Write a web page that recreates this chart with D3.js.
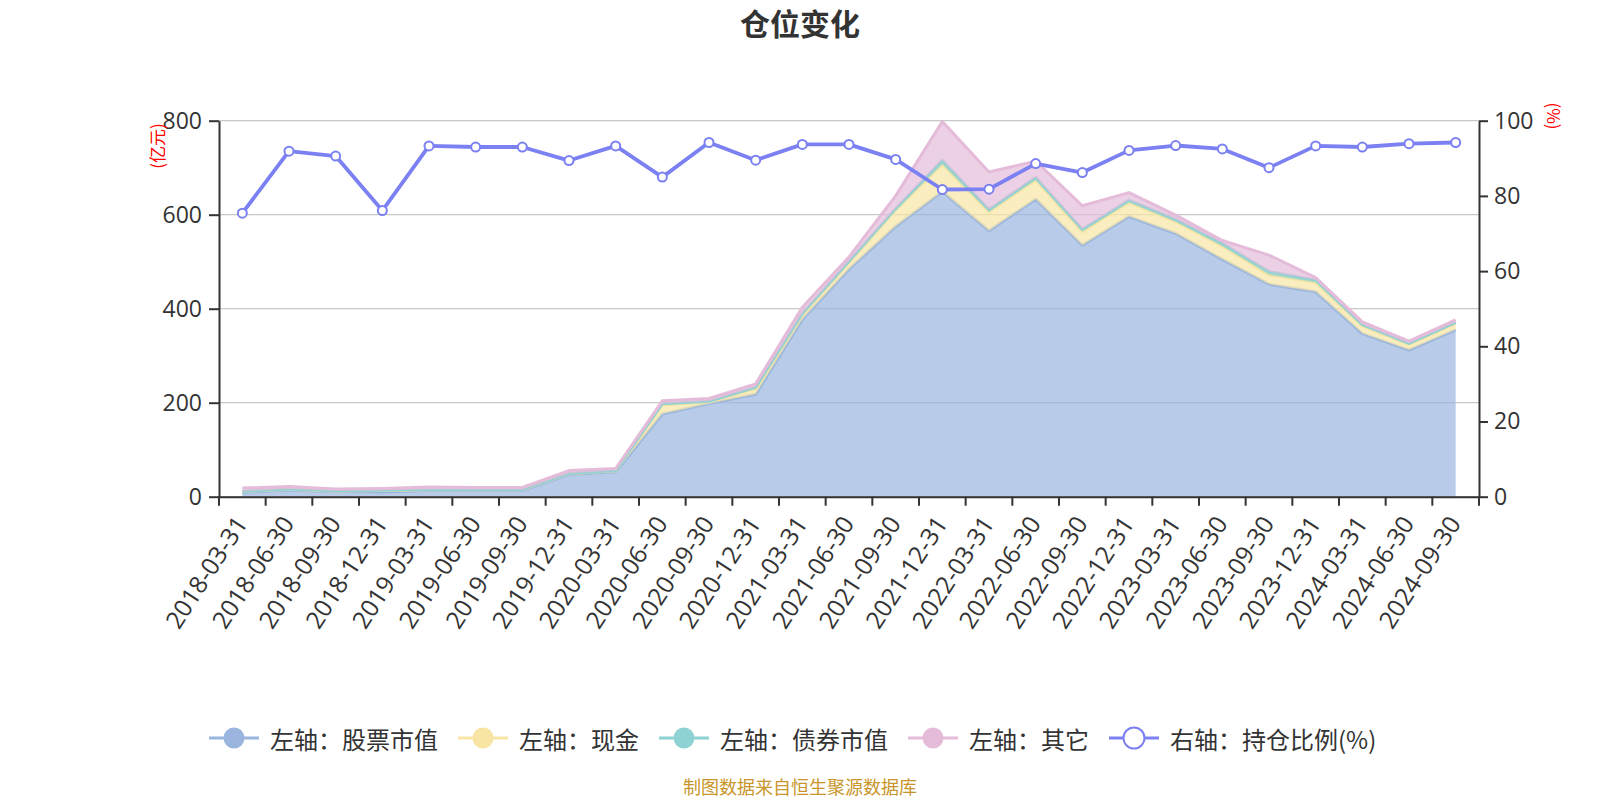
<!DOCTYPE html>
<html><head><meta charset="utf-8">
<script src="https://cdn.jsdelivr.net/npm/d3@7"></script>
<style>body{margin:0;background:#fff} svg{display:block}</style>
</head><body><svg id="c" width="1600" height="800"></svg>
<script>
const categories = ["2018-03-31","2018-06-30","2018-09-30","2018-12-31","2019-03-31","2019-06-30","2019-09-30","2019-12-31","2020-03-31","2020-06-30","2020-09-30","2020-12-31","2021-03-31","2021-06-30","2021-09-30","2021-12-31","2022-03-31","2022-06-30","2022-09-30","2022-12-31","2023-03-31","2023-06-30","2023-09-30","2023-12-31","2024-03-31","2024-06-30","2024-09-30"];
const stockValues = [9,14,11,10,13,13,13,47,53,176,198,218,377,484,575,649,566,633,535,596,560,505,452,436,347,312,355];
const cashValues  = [2,2,1,3,2,2,2,2,2,19,4,12,11,14,35,58,40,41,29,30,25,28,20,20,16,12,13];
const bondValues  = [0.5,0.5,0.5,0.5,0.5,0.5,0.5,0.5,1,3,1,3,2,3,3,9,5,5,5,5,5,6,7,5,3,2,3];
const otherValues = [7,5,4,4,5,4,4,6,4,6,6,7,13,9,27,82,80,35,50,16,9,6,35,5,6,5,5];
const ratioValues = [75.4,91.9,90.6,76.1,93.3,93.0,93.0,89.4,93.3,85.0,94.2,89.5,93.7,93.7,89.7,81.7,81.8,88.6,86.2,92.1,93.4,92.5,87.5,93.3,93.0,93.9,94.2];
const leftTicks = [0,200,400,600,800];
const rightTicks = [0,20,40,60,80,100];
const seriesNames = ["左轴：股票市值","左轴：现金","左轴：债券市值","左轴：其它","右轴：持仓比例(%)"];
const seriesColors = ["#9ab6df","#f8e5a4","#8fd2d3","#e4bcda","#7b80f2"];
const titleText = "仓位变化";
const leftUnit = "(亿元)";
const rightUnit = "(%)";
const footerText = "制图数据来自恒生聚源数据库";

const FONT = "'Open Sans','Noto Sans CJK SC',sans-serif";
const CJK = "'Noto Sans CJK SC','Open Sans',sans-serif";
const svg = d3.select("#c");
const L = 219, R = 1479, T = 120.7, B = 496.7;

const x = d3.scaleBand().domain(categories).range([L, R]);
const cx = c => x(c) + x.bandwidth() / 2;
const yL = d3.scaleLinear().domain([0, 800]).range([B, T]);
const yR = d3.scaleLinear().domain([0, 100]).range([B, T]);

const table = categories.map((c, i) => ({date: c, stock: stockValues[i], cash: cashValues[i], bond: bondValues[i], other: otherValues[i], ratio: ratioValues[i]}));
const keys = ["stock","cash","bond","other"];
const stacked = d3.stack().keys(keys)(table);

// title
svg.append("text").attr("x", 800).attr("y", 22).attr("text-anchor","middle").attr("dominant-baseline","central")
  .attr("font-family", CJK).attr("font-weight","bold").attr("font-size", 30).attr("fill","#333").text(titleText);

// grid
svg.append("g").selectAll("line").data(leftTicks).join("line")
  .attr("x1", L).attr("x2", R).attr("y1", d => yL(d)).attr("y2", d => yL(d))
  .attr("stroke", "#c8c8c8").attr("stroke-width", 1.3);

// areas
const area = d3.area().x(d => cx(d.data.date)).y0(d => yL(d[0])).y1(d => yL(d[1]));
const topLine = d3.line().x(d => cx(d.data.date)).y(d => yL(d[1]));
stacked.forEach((layer, k) => {
  svg.append("path").datum(layer).attr("d", area).attr("fill", seriesColors[k]).attr("fill-opacity", 0.7);
  svg.append("path").datum(layer).attr("d", topLine).attr("fill","none").attr("stroke", seriesColors[k])
    .attr("stroke-width", 3).attr("stroke-linejoin","round");
});

// left axis
const gl = svg.append("g").attr("transform", `translate(${L},0)`)
  .call(d3.axisLeft(yL).tickValues(leftTicks).tickSize(10).tickSizeOuter(0).tickPadding(7));
// right axis
const gr = svg.append("g").attr("transform", `translate(${R},0)`)
  .call(d3.axisRight(yR).tickValues(rightTicks).tickSize(9).tickSizeOuter(0).tickPadding(6));
[gl, gr].forEach(g => {
  g.select(".domain").attr("stroke","#333").attr("stroke-width",2);
  g.selectAll(".tick line").attr("stroke","#333").attr("stroke-width",2);
  g.selectAll(".tick text").attr("fill","#333").attr("font-size",23).attr("font-family",FONT);
});

// bottom axis (labels at band centers, ticks at band boundaries)
const gb = svg.append("g").attr("transform", `translate(0,${B})`)
  .call(d3.axisBottom(x).tickSize(0).tickSizeOuter(0));
gb.select(".domain").attr("stroke","#333").attr("stroke-width",2);
gb.selectAll(".tick text").attr("fill","#333").attr("font-size",24.5).attr("font-family",FONT)
  .attr("x",0).attr("y",0).attr("dy","0.35em").attr("text-anchor","end")
  .attr("transform","translate(-1,22) rotate(-57)");
const bounds = categories.map(c => x(c)).concat([R]);
gb.append("g").selectAll("line").data(bounds).join("line")
  .attr("x1", d => d).attr("x2", d => d).attr("y1", 0).attr("y2", 9)
  .attr("stroke","#333").attr("stroke-width",2);

// unit labels
svg.append("text").attr("transform","translate(156,146) rotate(-90)").attr("text-anchor","middle")
  .attr("dominant-baseline","central").attr("font-family",CJK).attr("font-size",17).attr("fill","#ff0000").text(leftUnit);
svg.append("text").attr("transform","translate(1554,116) rotate(90)").attr("text-anchor","middle")
  .attr("dominant-baseline","central").attr("font-family",CJK).attr("font-size",17).attr("fill","#ff0000").text(rightUnit);

// ratio line
const rline = d3.line().x(d => cx(d.date)).y(d => yR(d.ratio));
svg.append("path").datum(table).attr("d", rline).attr("fill","none").attr("stroke",seriesColors[4])
  .attr("stroke-width",3.8).attr("stroke-linejoin","round");
svg.append("g").selectAll("circle").data(table).join("circle")
  .attr("cx", d => cx(d.date)).attr("cy", d => yR(d.ratio)).attr("r", 4.5)
  .attr("fill","#fff").attr("stroke",seriesColors[4]).attr("stroke-width",2);

// legend
const lg = svg.append("g");
let lx = 209; const ly = 738;
seriesNames.forEach((name, i) => {
  const g = lg.append("g");
  g.append("line").attr("x1", lx).attr("x2", lx + 50).attr("y1", ly).attr("y2", ly)
    .attr("stroke", seriesColors[i]).attr("stroke-width", 3);
  g.append("circle").attr("cx", lx + 25).attr("cy", ly).attr("r", 10.5)
    .attr("fill", i === 4 ? "#fff" : seriesColors[i]).attr("stroke", seriesColors[i]).attr("stroke-width", i === 4 ? 2 : 0);
  const t = g.append("text").attr("x", lx + 61).attr("y", ly).attr("dominant-baseline","central")
    .attr("font-family", CJK).attr("font-size", 24).attr("fill","#333").text(name);
  lx += 61 + t.node().getComputedTextLength() + 20;
});

// footer
svg.append("text").attr("x", 800).attr("y", 786).attr("text-anchor","middle").attr("dominant-baseline","central")
  .attr("font-family", CJK).attr("font-size", 18).attr("fill","#c8962a").text(footerText);
</script></body></html>
